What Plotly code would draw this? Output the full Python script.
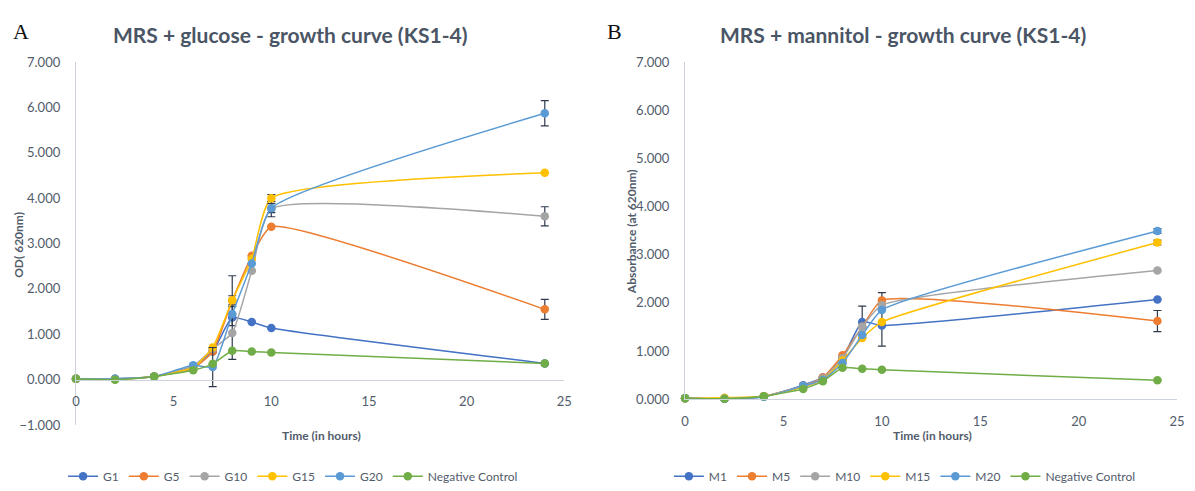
import plotly.graph_objects as go

# Sampling times (hours)
hours = [0, 2, 4, 6, 7, 8, 9, 10, 24]

# MRS + glucose, OD at 620 nm
glucose_names = ["G1", "G5", "G10", "G15", "G20", "Negative Control"]
g1 = [0.02, 0.02, 0.07, 0.30, 0.62, 1.37, 1.27, 1.14, 0.36]
g5 = [0.02, 0.01, 0.07, 0.25, 0.62, 1.74, 2.73, 3.37, 1.55]
g10 = [0.02, 0.02, 0.07, 0.30, 0.68, 1.03, 2.40, 3.76, 3.60]
g15 = [0.02, 0.01, 0.07, 0.27, 0.71, 1.75, 2.66, 4.00, 4.56]
g20 = [0.02, 0.02, 0.07, 0.32, 0.28, 1.45, 2.56, 3.78, 5.87]
g_neg = [0.02, 0.00, 0.07, 0.21, 0.35, 0.64, 0.62, 0.60, 0.36]

# standard deviations (None = no bar drawn)
g1_sd = [None] * 9
g5_sd = [None, None, None, None, None, 0.55, None, None, 0.22]
g10_sd = [None, None, None, None, None, 0.58, None, 0.17, 0.21]
g15_sd = [None, None, None, None, None, 0.10, None, 0.08, None]
g20_sd = [None, None, None, None, 0.43, None, None, 0.10, 0.28]
g_neg_sd = [None] * 9

# MRS + mannitol, absorbance at 620 nm
mannitol_names = ["M1", "M5", "M10", "M15", "M20", "Negative Control"]
m1 = [0.02, 0.01, 0.05, 0.29, 0.45, 0.85, 1.60, 1.53, 2.07]
m5 = [0.02, 0.01, 0.06, 0.27, 0.45, 0.91, 1.50, 2.05, 1.62]
m10 = [0.02, 0.01, 0.06, 0.27, 0.43, 0.85, 1.50, 1.95, 2.67]
m15 = [0.02, 0.03, 0.06, 0.25, 0.40, 0.80, 1.27, 1.60, 3.25]
m20 = [0.02, 0.01, 0.05, 0.27, 0.40, 0.75, 1.33, 1.85, 3.49]
m_neg = [0.02, 0.01, 0.06, 0.21, 0.37, 0.65, 0.63, 0.61, 0.39]

m1_sd = [None, None, None, None, None, None, 0.33, 0.43, None]
m5_sd = [None, None, None, None, None, None, None, 0.16, 0.22]
m10_sd = [None] * 9
m15_sd = [None, None, None, None, None, None, None, None, 0.05]
m20_sd = [None, None, None, None, None, None, None, None, 0.05]
m_neg_sd = [None] * 9

x_ticks = [0, 5, 10, 15, 20, 25]

series_colors = ["#4472C4", "#ED7D31", "#A5A5A5", "#FFC000", "#5B9BD5", "#70AD47"]
TEXT = "#525C6B"
AXIS = "#CDD3DD"
ERR = "#2F3B4C"
FONT = "Lato"

W, H = 1195, 491


def px_x(p):
    return p / W


def px_y(p):
    return 1 - p / H


fig = go.Figure()


def add_panel(names, values, sds, xa, ya, legend):
    for name, vals, sd, col in zip(names, values, sds, series_colors):
        fig.add_trace(go.Scatter(
            x=hours, y=vals, name=name, mode="lines+markers",
            line=dict(color=col, width=1.5, shape="spline", smoothing=0.5),
            marker=dict(color=col, size=8.5),
            error_y=dict(type="data", array=sd, visible=True, color=ERR,
                         thickness=1.2, width=4),
            xaxis=xa, yaxis=ya, legend=legend, cliponaxis=False,
        ))


add_panel(glucose_names, [g1, g5, g10, g15, g20, g_neg],
          [g1_sd, g5_sd, g10_sd, g15_sd, g20_sd, g_neg_sd], "x", "y", "legend")
add_panel(mannitol_names, [m1, m5, m10, m15, m20, m_neg],
          [m1_sd, m5_sd, m10_sd, m15_sd, m20_sd, m_neg_sd], "x2", "y2", "legend2")

tick_font = dict(family=FONT, size=13, color=TEXT)

# panel A: y from -1 to 7, x axis crossing at y = 0
yA_dom = [px_y(433), px_y(56)]
yA_zero = yA_dom[0] + (yA_dom[1] - yA_dom[0]) * (1 / 8)
# panel B: y from 0 to 7
yB_dom = [px_y(406), px_y(56)]

axis_common_x = dict(range=[0, 25], tickvals=x_ticks, showgrid=False, zeroline=False,
                     showline=True, linecolor=AXIS, linewidth=1.3, ticks="",
                     ticklabelstandoff=10, tickfont=tick_font)
axis_common_y = dict(dtick=1, tickformat=".3f", showgrid=False, zeroline=False,
                     showline=True, linecolor=AXIS, linewidth=1.3, ticks="",
                     ticklabelstandoff=12, tickfont=tick_font)

fig.update_layout(
    width=W, height=H,
    margin=dict(l=0, r=0, t=0, b=0),
    paper_bgcolor="white", plot_bgcolor="white",
    font=dict(family=FONT, color=TEXT),
    xaxis=dict(domain=[px_x(72.7), px_x(566)], anchor="free", position=yA_zero,
               **axis_common_x),
    yaxis=dict(domain=yA_dom, range=[-1, 7], anchor="x", **axis_common_y),
    xaxis2=dict(domain=[px_x(688), px_x(1185)], anchor="y2", **axis_common_x),
    yaxis2=dict(domain=yB_dom, range=[0, 7], anchor="x2", **axis_common_y),
    legend=dict(orientation="h", x=px_x(292), xanchor="center", y=px_y(486),
                yanchor="middle", font=dict(family=FONT, size=12, color=TEXT),
                bgcolor="rgba(0,0,0,0)", itemwidth=30),
    legend2=dict(orientation="h", x=px_x(910), xanchor="center", y=px_y(486),
                 yanchor="middle", font=dict(family=FONT, size=12, color=TEXT),
                 bgcolor="rgba(0,0,0,0)", itemwidth=30),
    showlegend=True,
)

title_font = dict(family=FONT, size=21, color="#4A5565")
label_font = dict(family=FONT, size=12, color=TEXT)


def note(text, x, y, font, angle=0):
    fig.add_annotation(text=text, x=px_x(x), y=px_y(y), xref="paper", yref="paper",
                       showarrow=False, xanchor="center", yanchor="middle",
                       font=font, textangle=angle)


note("<b>MRS + glucose - growth curve (KS1-4)</b>", 289, 27, title_font)
note("<b>MRS + mannitol - growth curve (KS1-4)</b>", 908, 27, title_font)
note("A", 17, 24, dict(family="Liberation Serif", size=22, color="#111111"))
note("B", 617, 24, dict(family="Liberation Serif", size=22, color="#111111"))
note("<b>Time (in hours)</b>", 321, 444, label_font)
note("<b>Time (in hours)</b>", 938, 444, label_font)
note("<b>OD( 620nm)</b>", 15, 246, label_font, angle=-90)
note("<b>Absorbance (at 620nm)</b>", 634, 232, label_font, angle=-90)

fig.write_html("out.html")
